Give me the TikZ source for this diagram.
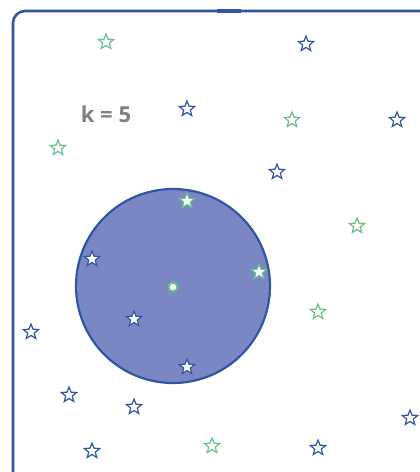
\documentclass[tikz,border=0pt]{standalone}
\usepackage{fontspec}
\setmainfont{Open Sans}
\usetikzlibrary{shapes.geometric}
\definecolor{frameblue}{HTML}{2F55A4}
\definecolor{stargreen}{HTML}{66C28A}
\definecolor{circfill}{HTML}{7B87C4}
\definecolor{labelgray}{HTML}{808080}
\tikzset{
  pt/.style={star, star points=5, star point ratio=2.3, minimum size=16pt, inner sep=0pt, line width=1.2pt, fill=white},
  bstar/.style={pt, draw=frameblue},
  gstar/.style={pt, draw=stargreen},
}
\begin{document}
\begin{tikzpicture}[x=1pt,y=-1pt]
\useasboundingbox (0,0) rectangle (420,472);
\begin{scope}
\clip (0,0) rectangle (420,472);
\draw[frameblue, line width=2.6pt, rounded corners=12pt] (13,11) rectangle (445,495);
\draw[frameblue, line width=4.5pt] (217,11) -- (241,11);
\end{scope}
\node[circle, draw=frameblue, fill=circfill, line width=2.2pt, minimum size=194pt, inner sep=0pt] (region) at (173,286) {};
\node[circle, draw=stargreen, fill=white, line width=2.2pt, minimum size=9pt, inner sep=0pt] (query) at (173,287) {};
\node[text=labelgray, font=\bfseries\fontsize{22}{26}\selectfont] (k) at (106,114) {k = 5};
% green stars outside
\node[gstar] (g1) at (106,42) {};
\node[gstar] (g2) at (292,120) {};
\node[gstar] (g3) at (58,148) {};
\node[gstar] (g4) at (357,226) {};
\node[gstar] (g5) at (318,312) {};
\node[gstar] (g6) at (212,446) {};
% blue stars outside
\node[bstar] (b1) at (306,44) {};
\node[bstar] (b2) at (187,109) {};
\node[bstar] (b3) at (397,120) {};
\node[bstar] (b4) at (277,172) {};
\node[bstar] (b5) at (31,332) {};
\node[bstar] (b6) at (69,395) {};
\node[bstar] (b7) at (134,407) {};
\node[bstar] (b8) at (410,418) {};
\node[bstar] (b9) at (92,451) {};
\node[bstar] (b10) at (318,448) {};
% inside neighbours
\node[gstar] (n1) at (187,201) {};
\node[gstar] (n2) at (259,272) {};
\node[bstar] (n3) at (92,259) {};
\node[bstar] (n4) at (134,319) {};
\node[bstar] (n5) at (187,367) {};
\end{tikzpicture}
\end{document}
